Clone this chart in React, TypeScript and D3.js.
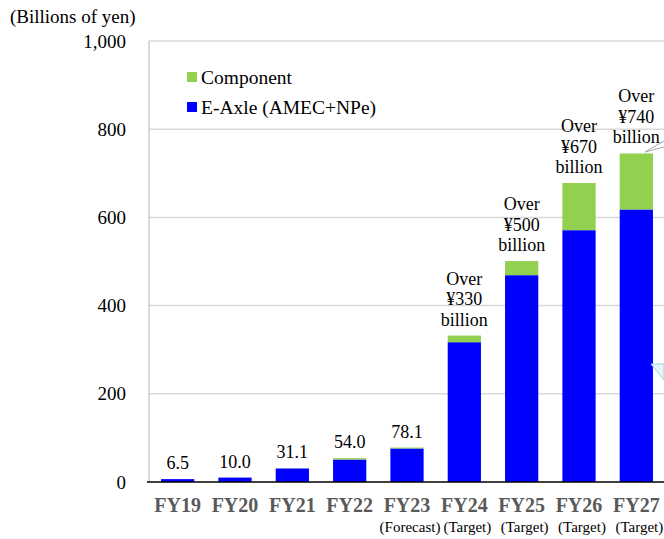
import React from 'react';
import * as d3 from 'd3';

const categories = ['FY19', 'FY20', 'FY21', 'FY22', 'FY23', 'FY24', 'FY25', 'FY26', 'FY27'];
const subLabels = ['', '', '', '', '(Forecast)', '(Target)', '(Target)', '(Target)', '(Target)'];
const eaxleValues = [6.5, 10.0, 30.7, 51.0, 76.0, 317, 469, 571, 618];
const componentValues = [0, 0, 0.4, 3.0, 2.1, 15, 32, 107, 127];
const valueLabels: string[][] = [
  ['6.5'],
  ['10.0'],
  ['31.1'],
  ['54.0'],
  ['78.1'],
  ['Over', '¥330', 'billion'],
  ['Over', '¥500', 'billion'],
  ['Over', '¥670', 'billion'],
  ['Over', '¥740', 'billion'],
];
const yTicks = [0, 200, 400, 600, 800, 1000];
const seriesNames = ['Component', 'E-Axle (AMEC+NPe)'];
const seriesColors = ['#92D050', '#0000FF'];

const W = 664;
const H = 539;
const SERIF = '"Liberation Serif", "Times New Roman", serif';

export default function App() {
  const x = d3.scaleBand<string>().domain(categories).range([149, 665]).paddingInner(0.42).paddingOuter(0.21);
  const y = d3.scaleLinear().domain([0, 1000]).range([482, 41]);
  const fmt = d3.format(',');

  return (
    <svg width={W} height={H} style={{ position: 'absolute', left: 0, top: 0, background: '#fff' }} fontFamily={SERIF}>
      <rect x={0} y={0} width={W} height={H} fill="#fff" />
      {/* gridlines */}
      {yTicks.filter(t => t > 0).map(t => (
        <line key={t} x1={149} x2={W} y1={y(t)} y2={y(t)} stroke="#d9d9d9" strokeWidth={1.5} />
      ))}
      <line x1={149} x2={149} y1={y(1000)} y2={y(0)} stroke="#bfbfbf" strokeWidth={1.2} />
      {/* y tick labels */}
      {yTicks.map(t => (
        <text key={t} x={126} y={y(t)} dy="0.35em" textAnchor="end" fontSize={19} fill="#000">{fmt(t)}</text>
      ))}
      <text x={10} y={23} fontSize={19} fill="#000">(Billions of yen)</text>

      {/* bars */}
      {categories.map((c, i) => {
        const x0 = x(c) as number;
        const bw = x.bandwidth();
        const b = eaxleValues[i];
        const g = componentValues[i];
        return (
          <g key={c}>
            <rect x={x0} y={y(b)} width={bw} height={y(0) - y(b)} fill={seriesColors[1]} />
            {g > 0 && <rect x={x0} y={y(b + g)} width={bw} height={y(b) - y(b + g)} fill={seriesColors[0]} />}
          </g>
        );
      })}
      <line x1={147} x2={W} y1={y(0)} y2={y(0)} stroke="#000" strokeWidth={1.5} />

      {/* value labels */}
      {categories.map((c, i) => {
        const cx = (x(c) as number) + x.bandwidth() / 2;
        const top = y(eaxleValues[i] + componentValues[i]);
        const lines = valueLabels[i];
        return (
          <text key={c} x={cx} textAnchor="middle" fontSize={18} fill="#000">
            {lines.map((l, k) => (
              <tspan key={k} x={cx} y={top - 10 - (lines.length - 1 - k) * 20.5}>{l}</tspan>
            ))}
          </text>
        );
      })}

      {/* x labels */}
      {categories.map((c, i) => {
        const cx = (x(c) as number) + x.bandwidth() / 2;
        return (
          <g key={c}>
            <text x={cx} y={512} textAnchor="middle" fontSize={20} fontWeight="bold" fill="#595959">{c}</text>
            {subLabels[i] && (
              <text x={cx + 3} y={532} textAnchor="middle" fontSize={15} fill="#000">{subLabels[i]}</text>
            )}
          </g>
        );
      })}

      {/* legend */}
      {seriesNames.map((n, i) => (
        <g key={n} transform={`translate(187, ${72 + i * 30})`}>
          <rect x={0} y={0} width={10} height={10} fill={seriesColors[i]} />
          <text x={14} y={5} dy="0.35em" fontSize={19.5} fill="#000">{n}</text>
        </g>
      ))}

      {/* off-chart callout fragments */}
      <path d="M664,141 L645,152 L664,147" fill="#fff" stroke="#a6a6a6" strokeWidth={1} />
      <path d="M651,364 L664,364 L664,380 Z" fill="#e3f3f8" stroke="#9fd3e0" strokeWidth={1} />
    </svg>
  );
}
